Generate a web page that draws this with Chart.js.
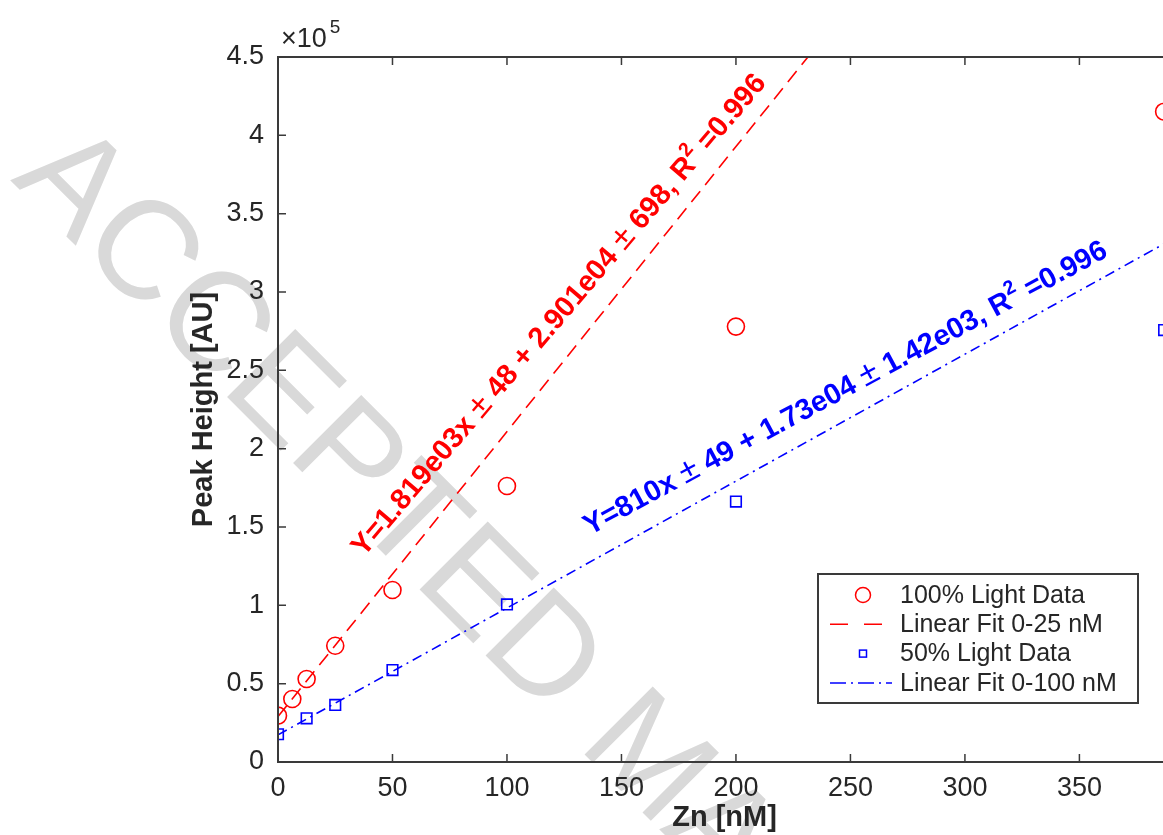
<!DOCTYPE html>
<html>
<head>
<meta charset="utf-8">
<script src="https://cdn.jsdelivr.net/npm/chart.js@4.4.1/dist/chart.umd.min.js"></script>
<style>
  html, body { margin: 0; padding: 0; background: #ffffff; overflow: hidden; }
  canvas { display: block; }
</style>
</head>
<body>
<canvas id="chart" width="1200" height="835"></canvas>
<script>
// Zn concentration (nM) and peak heights (AU) for the two light levels
const zn100 = [0, 6.25, 12.5, 25, 50, 100, 200, 387];
const peak100 = [29600, 40200, 53000, 74200, 109800, 176200, 277900, 415100];
const zn50 = [0, 12.5, 25, 50, 100, 200, 387];
const peak50 = [17700, 27900, 36400, 58700, 100600, 166200, 275700];

// Linear fit coefficients, as printed in the fit labels
const fit100Slope = 1819;
const fit100Intercept = 29010;
const fit50Slope = 810;
const fit50Intercept = 17300;
const fitSpan = [0, 400];

const seriesNames = ['100% Light Data', 'Linear Fit 0-25 nM', '50% Light Data', 'Linear Fit 0-100 nM'];

const xTickValues = [0, 50, 100, 150, 200, 250, 300, 350];
const yTickValues = [0, 50000, 100000, 150000, 200000, 250000, 300000, 350000, 400000, 450000];
const yTickLabels = ['0', '0.5', '1', '1.5', '2', '2.5', '3', '3.5', '4', '4.5'];

// Fit equations: b = bold, r = regular, s = superscript
const fitText100 = [
  ['Y=1.819e03x ', 'b'], ['\u00b1', 'r'], [' 48 + 2.901e04 ', 'b'], ['\u00b1', 'r'],
  [' 698, R', 'b'], ['2', 's'], [' =0.996', 'b']
];
const fitText50 = [
  ['Y=810x ', 'b'], ['\u00b1', 'r'], [' 49 + 1.73e04 ', 'b'], ['\u00b1', 'r'],
  [' 1.42e03, R', 'b'], ['2', 's'], [' =0.996', 'b']
];

const FONT = '"Liberation Sans", Arial, Helvetica, sans-serif';
const INK = '#262626';
const RED = '#ff0000';
const BLUE = '#0000ff';

const toPoints = (xs, ys) => xs.map((x, i) => ({ x: x, y: ys[i] }));
const fitLine = (slope, intercept) => fitSpan.map(x => ({ x: x, y: slope * x + intercept }));

// Watermark behind everything
const watermark = {
  id: 'watermark',
  beforeDraw(chart) {
    const ctx = chart.ctx;
    ctx.save();
    ctx.translate(10, 180);
    ctx.rotate(Math.PI / 4);
    ctx.font = '140px ' + FONT;
    ctx.fillStyle = '#d9d9d9';
    ctx.textBaseline = 'alphabetic';
    ctx.fillText('ACCEPTED MANUSCRIPT', 0, 0);
    ctx.restore();
  }
};

// Axes box with inward ticks on all four sides, plus the x10^5 exponent
const axesBox = {
  id: 'axesBox',
  afterDatasetsDraw(chart) {
    const { ctx, chartArea: a, scales } = chart;
    const tl = 8;
    ctx.save();
    ctx.strokeStyle = '#3a3a3a';
    ctx.lineWidth = 2;
    ctx.strokeRect(a.left, a.top, a.right - a.left, a.bottom - a.top);
    ctx.lineWidth = 1.5;
    ctx.beginPath();
    scales.x.ticks.forEach(t => {
      const px = scales.x.getPixelForValue(t.value);
      ctx.moveTo(px, a.bottom); ctx.lineTo(px, a.bottom - tl);
      ctx.moveTo(px, a.top); ctx.lineTo(px, a.top + tl);
    });
    scales.y.ticks.forEach(t => {
      const py = scales.y.getPixelForValue(t.value);
      ctx.moveTo(a.left, py); ctx.lineTo(a.left + tl, py);
      ctx.moveTo(a.right, py); ctx.lineTo(a.right - tl, py);
    });
    ctx.stroke();

    ctx.fillStyle = INK;
    ctx.textBaseline = 'alphabetic';
    ctx.textAlign = 'left';
    ctx.font = '27px ' + FONT;
    const ex = a.left + 3;
    ctx.fillText('\u00d710', ex, a.top - 10);
    const w = ctx.measureText('\u00d710').width;
    ctx.font = '19px ' + FONT;
    ctx.fillText('5', ex + w + 3, a.top - 24);
    ctx.restore();
  }
};

// Rotated fit equations placed in data coordinates
function drawRich(ctx, segs, size) {
  let x = 0;
  segs.forEach(([t, k]) => {
    const sz = k === 's' ? size * 0.68 : (k === 'r' ? size * 1.15 : size);
    const weight = k === 'r' ? 'normal' : 'bold';
    ctx.font = weight + ' ' + sz + 'px ' + FONT;
    const dy = k === 's' ? -size * 0.45 : 0;
    ctx.fillText(t, x, dy);
    x += ctx.measureText(t).width;
  });
}

const fitLabels = {
  id: 'fitLabels',
  afterDatasetsDraw(chart, args, opts) {
    const { ctx, scales } = chart;
    opts.items.forEach(item => {
      const px = scales.x.getPixelForValue(item.at[0]);
      const py = scales.y.getPixelForValue(item.at[1]);
      ctx.save();
      ctx.translate(px, py);
      ctx.rotate(item.angle * Math.PI / 180);
      ctx.fillStyle = item.color;
      ctx.textBaseline = 'alphabetic';
      ctx.textAlign = 'left';
      drawRich(ctx, item.segs, item.size);
      ctx.restore();
    });
  }
};

// Boxed legend inside the plot area
const boxLegend = {
  id: 'boxLegend',
  afterDraw(chart) {
    const { ctx, chartArea: a } = chart;
    const w = 320, h = 129;
    const right = a.right - 33, bottom = a.bottom - 59;
    const left = right - w, top = bottom - h;
    ctx.save();
    ctx.fillStyle = '#ffffff';
    ctx.fillRect(left, top, w, h);
    ctx.strokeStyle = '#3a3a3a';
    ctx.lineWidth = 2;
    ctx.strokeRect(left, top, w, h);
    chart.data.datasets.forEach((ds, i) => {
      const y = top + 21 + i * 29.3;
      const cx = left + 43;
      ctx.strokeStyle = ds.borderColor;
      ctx.lineWidth = 1.5;
      if (ds.showLine) {
        ctx.setLineDash(ds.legendDash);
        ctx.beginPath();
        ctx.moveTo(cx - 31, y);
        ctx.lineTo(cx + 31, y);
        ctx.stroke();
        ctx.setLineDash([]);
      } else if (ds.pointStyle === 'circle') {
        ctx.beginPath();
        ctx.arc(cx + 2, y, 7.5, 0, Math.PI * 2);
        ctx.stroke();
      } else {
        ctx.strokeRect(cx + 2 - 3.5, y - 3.5, 7, 7);
      }
      ctx.fillStyle = INK;
      ctx.font = '25px ' + FONT;
      ctx.textBaseline = 'middle';
      ctx.textAlign = 'left';
      ctx.fillText(ds.label, left + 82, y + 1);
    });
    ctx.restore();
  }
};

new Chart(document.getElementById('chart'), {
  type: 'scatter',
  data: {
    datasets: [
      {
        label: seriesNames[0],
        data: toPoints(zn100, peak100),
        showLine: false,
        pointStyle: 'circle',
        pointRadius: 8.5,
        pointBorderWidth: 1.6,
        borderColor: RED,
        backgroundColor: 'rgba(0,0,0,0)',
        pointBackgroundColor: 'rgba(0,0,0,0)'
      },
      {
        label: seriesNames[1],
        data: fitLine(fit100Slope, fit100Intercept),
        showLine: true,
        pointRadius: 0,
        borderColor: RED,
        borderWidth: 1.6,
        borderDash: [14, 8],
        legendDash: [18, 16]
      },
      {
        label: seriesNames[2],
        data: toPoints(zn50, peak50),
        showLine: false,
        pointStyle: 'rect',
        pointRadius: 7.5,
        pointBorderWidth: 1.6,
        borderColor: BLUE,
        backgroundColor: 'rgba(0,0,0,0)',
        pointBackgroundColor: 'rgba(0,0,0,0)'
      },
      {
        label: seriesNames[3],
        data: fitLine(fit50Slope, fit50Intercept),
        showLine: true,
        pointRadius: 0,
        borderColor: BLUE,
        borderWidth: 1.6,
        borderDash: [10, 5, 2, 5],
        legendDash: [16, 5, 2, 5]
      }
    ]
  },
  options: {
    responsive: false,
    animation: false,
    devicePixelRatio: 1,
    layout: { padding: { left: 0, top: 57, right: 29, bottom: 0 } },
    plugins: {
      legend: { display: false },
      tooltip: { enabled: false },
      fitLabels: {
        items: [
          { segs: fitText100, at: [37.5, 130500], angle: -49.6, color: RED, size: 29 },
          { segs: fitText50, at: [136.1, 144500], angle: -28.3, color: BLUE, size: 29 }
        ]
      }
    },
    scales: {
      x: {
        type: 'linear',
        min: 0,
        max: 390,
        afterFit(s) { s.height = 73; },
        afterBuildTicks(s) { s.ticks = xTickValues.map(v => ({ value: v })); },
        grid: { display: false, drawTicks: false },
        border: { display: false },
        ticks: {
          color: INK,
          padding: 10,
          maxRotation: 0,
          font: { family: FONT, size: 27 },
          callback: v => String(v)
        },
        title: {
          display: true,
          text: 'Zn [nM]',
          color: INK,
          padding: { top: 0, bottom: 0 },
          font: { family: FONT, size: 29, weight: 'bold' }
        }
      },
      y: {
        type: 'linear',
        min: 0,
        max: 450000,
        afterFit(s) { s.width = 278; },
        afterBuildTicks(s) { s.ticks = yTickValues.map(v => ({ value: v })); },
        grid: { display: false, drawTicks: false },
        border: { display: false },
        ticks: {
          color: INK,
          padding: 14,
          font: { family: FONT, size: 27 },
          callback: (v) => yTickLabels[yTickValues.indexOf(v)]
        },
        title: {
          display: true,
          text: 'Peak Height [AU]',
          color: INK,
          padding: { top: 187, bottom: 0 },
          font: { family: FONT, size: 29, weight: 'bold' }
        }
      }
    }
  },
  plugins: [watermark, axesBox, fitLabels, boxLegend]
});
</script>
</body>
</html>
